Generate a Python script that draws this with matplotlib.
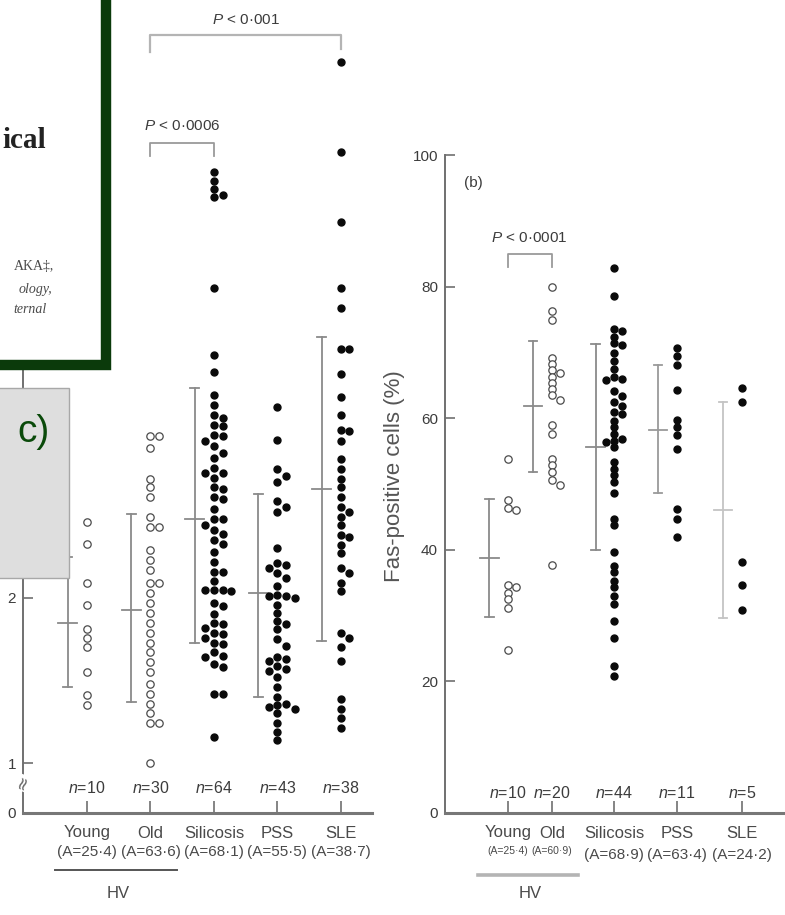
import numpy as np
import matplotlib
matplotlib.use("Agg")
import matplotlib.pyplot as plt
from matplotlib.patches import Rectangle
from matplotlib.lines import Line2D
from matplotlib import transforms

SANS = ["Liberation Sans", "DejaVu Sans"]
plt.rcParams["font.family"] = SANS
plt.rcParams["mathtext.fontset"] = "custom"
plt.rcParams["mathtext.it"] = "Liberation Sans:italic"
plt.rcParams["mathtext.rm"] = "Liberation Sans"

# ---- panel (a): serum level, broken axis below 1 ----
left_groups = ["Young", "Old", "Silicosis", "PSS", "SLE"]
left_ages = ["(A=25·4)", "(A=63·6)", "(A=68·1)", "(A=55·5)", "(A=38·7)"]
left_n = [10, 30, 64, 43, 38]
left_young = [2.46, 2.33, 2.09, 1.96, 1.81, 1.76, 1.70, 1.55, 1.41, 1.35]
left_old = [2.98, 2.98, 2.91, 2.72, 2.67, 2.61, 2.49, 2.43, 2.43, 2.29, 2.23, 2.17,
            2.09, 2.09, 2.03, 1.97, 1.91, 1.85, 1.79, 1.73, 1.67, 1.61, 1.55, 1.48,
            1.42, 1.36, 1.30, 1.24, 1.24, 1.00]
left_sil = [4.58, 4.53, 4.48, 4.44, 4.43, 3.88, 3.47, 3.37,
            3.23, 3.17, 3.11, 3.09, 3.05, 3.04, 2.99, 2.98, 2.95, 2.92, 2.88, 2.85,
            2.79, 2.76, 2.76, 2.73, 2.67, 2.66, 2.61, 2.60, 2.54, 2.48, 2.48, 2.44,
            2.41, 2.39, 2.35, 2.33, 2.28, 2.22, 2.16, 2.16, 2.10, 2.05, 2.05, 2.05,
            2.04, 1.97, 1.95, 1.90, 1.85, 1.84, 1.82, 1.79, 1.78, 1.76, 1.73, 1.72,
            1.67, 1.65, 1.64, 1.60, 1.58, 1.42, 1.42, 1.16]
left_pss = [3.16, 2.96, 2.78, 2.74, 2.70, 2.59, 2.55, 2.52, 2.30, 2.21, 2.20, 2.18,
            2.15, 2.12, 2.07, 2.02, 2.01, 2.01, 2.00, 1.96, 1.91, 1.86, 1.84, 1.81,
            1.75, 1.71, 1.64, 1.63, 1.62, 1.59, 1.57, 1.56, 1.52, 1.46, 1.40, 1.36,
            1.35, 1.34, 1.33, 1.30, 1.24, 1.19, 1.14]
left_sle = [5.25, 4.70, 4.28, 3.88, 3.76, 3.51, 3.51, 3.36, 3.22, 3.11, 3.02, 3.01,
            2.95, 2.84, 2.78, 2.72, 2.67, 2.61, 2.55, 2.52, 2.49, 2.44, 2.38, 2.37,
            2.32, 2.27, 2.18, 2.15, 2.09, 2.04, 1.79, 1.76, 1.70, 1.62, 1.39, 1.33,
            1.27, 1.21]
left_mean = [1.85, 1.93, 2.48, 2.03, 2.66]
left_lo = [1.46, 1.37, 1.73, 1.40, 1.74]
left_hi = [2.25, 2.51, 3.27, 2.63, 3.58]
# only the low tick labels show; the rest sit under the pasted-over boxes
left_ticks = [0, 1, 2, 3, 4, 5]
left_ticklabels = ["0", "1", "2", "", "", ""]

# ---- panel (b): Fas-positive cells (%) ----
right_ages = ["(A=25·4)", "(A=60·9)", "(A=68·9)", "(A=63·4)", "(A=24·2)"]
right_n = [10, 20, 44, 11, 5]
right_young = [53.8, 47.6, 46.4, 46.1, 34.6, 34.3, 33.5, 32.5, 31.2, 24.8]
right_old = [79.9, 76.3, 74.9, 69.1, 68.2, 67.3, 66.9, 66.3, 65.4, 64.5, 63.6, 62.8,
             58.9, 57.6, 53.8, 52.9, 51.8, 50.6, 49.8, 37.7]
right_sil = [82.9, 78.5, 73.6, 73.2, 72.4, 71.5, 71.1, 69.9, 68.7, 67.5, 66.2, 66.0,
             65.8, 64.2, 63.4, 62.5, 61.9, 61.0, 60.6, 59.6, 58.6, 57.6, 56.8, 56.6,
             56.4, 55.6, 53.3, 52.3, 51.3, 50.3, 48.7, 44.7, 43.7, 39.6, 37.6, 36.6,
             35.3, 34.3, 33.0, 31.7, 29.2, 26.6, 22.3, 20.8]
right_pss = [70.6, 69.4, 68.1, 64.3, 59.7, 58.6, 57.4, 55.3, 46.2, 44.7, 42.0]
right_sle = [64.6, 62.4, 38.2, 34.6, 30.8]
right_mean = [38.8, 61.9, 55.6, 58.2, 46.1]
right_lo = [29.8, 51.8, 40.0, 48.6, 29.7]
right_hi = [47.7, 71.8, 71.3, 68.1, 62.4]

# layout
W, H = 785, 915
left_pos = [0, 1, 2, 3, 4]
right_pos = [0, 0.7, 1.7, 2.7, 3.74]
BAR_DX = -0.30
TXT = "#3c3c3c"
LBL = "#4a4a4a"
AXC = "#707070"
BRK = 0.303


def fx(px):
    return px / W


def fy(py):
    return 1 - py / H


def fwd(y):
    y = np.asarray(y, float)
    return np.where(y < 1, y * BRK, y - 1 + BRK)


def inv(f):
    f = np.asarray(f, float)
    return np.where(f < BRK, f / BRK, f + 1 - BRK)


def swarm(vals, d):
    """column index per point: stay in the middle unless too close to the last one there"""
    vals = np.asarray(vals, float)
    offs = np.zeros(len(vals))
    last = {}
    for i in np.argsort(-vals, kind="stable"):
        for c in (0, 1, -1, 2, -2):
            if c not in last or abs(last[c] - vals[i]) >= d:
                offs[i] = c
                last[c] = vals[i]
                break
    return offs


def panel(ax, pos, groups, mean, lo, hi, d, step, bar_cols):
    for i, vals in enumerate(groups):
        x = pos[i] + swarm(vals, d) * step
        if i < 2:
            ax.plot(x, vals, "o", ms=5.3, mfc="white", mec="#4a4a4a", mew=0.9,
                    ls="none", clip_on=False, zorder=3)
        else:
            ax.plot(x, vals, "o", ms=5.0, color="#0a0a0a", ls="none",
                    clip_on=False, zorder=3)
        xb = pos[i] + BAR_DX
        c = bar_cols[i]
        ax.plot([xb, xb], [lo[i], hi[i]], color=c, lw=1.3)
        for yv in (lo[i], hi[i]):
            ax.plot([xb - 0.07, xb + 0.07], [yv, yv], color=c, lw=1.3)
        ax.plot([xb - 0.15, xb + 0.15], [mean[i], mean[i]], color=c, lw=1.3)


def style(ax, pos):
    for s in ("top", "right"):
        ax.spines[s].set_visible(False)
    ax.spines["left"].set_color(AXC)
    ax.spines["left"].set_linewidth(1.4)
    ax.spines["bottom"].set_color("#777777")
    ax.spines["bottom"].set_linewidth(2.2)
    ax.set_xticks(pos)
    ax.set_xticklabels([])
    ax.tick_params(axis="x", direction="in", length=9, width=1.2, color=AXC)
    ax.tick_params(axis="y", direction="in", length=7, width=1.2, color=AXC,
                   pad=5, labelsize=11, labelcolor=TXT)


fig = plt.figure(figsize=(W / 100, H / 100), dpi=100)
axL = fig.add_axes([fx(23), fy(813), (372 - 23) / W, 813 / H])
axR = fig.add_axes([fx(445), fy(813), (785 - 445) / W, (813 - 155) / H])

# panel a
axL.set_yscale("function", functions=(fwd, inv))
axL.set_ylim(0, 5.624)
axL.set_xlim(-1.008, 4.49)
panel(axL, left_pos, [left_young, left_old, left_sil, left_pss, left_sle],
      left_mean, left_lo, left_hi, 0.045, 0.135, ["#8a8a8a"] * 5)
style(axL, left_pos)
axL.set_yticks(left_ticks)
axL.set_yticklabels(left_ticklabels)
# axis break between 0 and 1
axL.text(0, 0.6, "≈", transform=axL.get_yaxis_transform(), rotation=70,
         ha="center", va="center", fontsize=13, color="#666666",
         family="DejaVu Sans", bbox=dict(fc="white", ec="none", pad=0.5), zorder=4)

# P-value brackets, panel a
gc = "#9a9a9a"
axL.plot([1, 1, 4, 4], [5.31, 5.41, 5.41, 5.33], color="#b4b4b4", lw=1.6, clip_on=False)
axL.text(2.5, 5.50, "$P$ < 0·001", ha="center", va="center", fontsize=11, color=TXT)
axL.plot([1, 1, 2, 2], [4.68, 4.76, 4.76, 4.68], color=gc, lw=1.3)
axL.text(1.5, 4.86, "$P$ < 0·0006", ha="center", va="center", fontsize=11, color=TXT)

# panel b
axR.set_ylim(0, 100)
axR.set_xlim(-1.008, 4.43)
panel(axR, right_pos, [right_young, right_old, right_sil, right_pss, right_sle],
      right_mean, right_lo, right_hi, 0.85, 0.13,
      ["#8a8a8a", "#8a8a8a", "#8a8a8a", "#9a9a9a", "#c4c4c4"])
style(axR, right_pos)
axR.set_yticks([0, 20, 40, 60, 80, 100])
axR.set_ylabel("Fas-positive cells (%)", fontsize=16, color="#555555")
axR.yaxis.set_label_coords(-0.118, 0.512)
axR.text(-0.56, 95.7, "(b)", ha="center", va="center", fontsize=11, color=TXT)
axR.plot([0, 0, 0.7, 0.7], [83.0, 85.0, 85.0, 83.0], color=gc, lw=1.3)
axR.text(0.34, 87.4, "$P$ < 0·0001", ha="center", va="center", fontsize=11, color=TXT)

# group labels under both panels
for ax, pos, ages, ns, ny, l2, small in (
        (axL, left_pos, left_ages, left_n, 788, 852, False),
        (axR, right_pos, right_ages, right_n, 793, 855, True)):
    tr = transforms.blended_transform_factory(ax.transData, fig.transFigure)
    for i, p in enumerate(pos):
        ax.text(p, fy(ny), f"$n$={ns[i]}", transform=tr, ha="center", va="center",
                fontsize=11.5, color=TXT)
        ax.text(p, fy(833), left_groups[i], transform=tr, ha="center", va="center",
                fontsize=12, color=LBL)
        if small and i < 2:
            ax.text(p, fy(851), ages[i], transform=tr, ha="center", va="center",
                    fontsize=7.5, color=LBL)
        else:
            ax.text(p, fy(l2), ages[i], transform=tr, ha="center", va="center",
                    fontsize=11, color=LBL)

trL = transforms.blended_transform_factory(axL.transData, fig.transFigure)
axL.add_line(Line2D([-0.50, 1.42], [fy(870), fy(870)], transform=trL, color="#555555",
                    lw=1.4, clip_on=False))
axL.text(0.49, fy(893), "HV", transform=trL, ha="center", va="center", fontsize=12,
         color=LBL)
trR = transforms.blended_transform_factory(axR.transData, fig.transFigure)
axR.add_line(Line2D([-0.48, 1.12], [fy(875), fy(875)], transform=trR, color="#b4b4b4",
                    lw=2.6, clip_on=False))
axR.text(0.35, fy(893), "HV", transform=trR, ha="center", va="center", fontsize=12,
         color=LBL)

# pasted-over boxes on the left edge
fig.add_artist(Rectangle((fx(-20), fy(365)), (105.5 + 20) / W, (365 + 20) / H,
                         transform=fig.transFigure, fc="white", ec="#0b3a0b",
                         lw=7.5, zorder=10))
SERIF = ["Liberation Serif", "DejaVu Serif"]
fig.text(fx(46), fy(140), "ical", ha="right", va="center", fontsize=21,
         fontweight="bold", family=SERIF, color="#222222", zorder=11)
fig.text(fx(54), fy(267), "AKA‡,", ha="right", va="center", fontsize=10,
         family=SERIF, color="#4a4a4a", zorder=11)
fig.text(fx(52), fy(290), "ology,", ha="right", va="center", fontsize=10,
         style="italic", family=SERIF, color="#4a4a4a", zorder=11)
fig.text(fx(47), fy(310), "ternal", ha="right", va="center", fontsize=10,
         style="italic", family=SERIF, color="#4a4a4a", zorder=11)

fig.add_artist(Rectangle((fx(-5), fy(578)), 74 / W, (578 - 388) / H,
                         transform=fig.transFigure, fc="#dedede", ec="#a8a8a8",
                         lw=1.0, zorder=10))
fig.text(fx(50), fy(432), "c)", ha="right", va="center", fontsize=28,
         family=SANS, color="#0a4a0a", zorder=11)

fig.savefig("out.png", dpi=100)
